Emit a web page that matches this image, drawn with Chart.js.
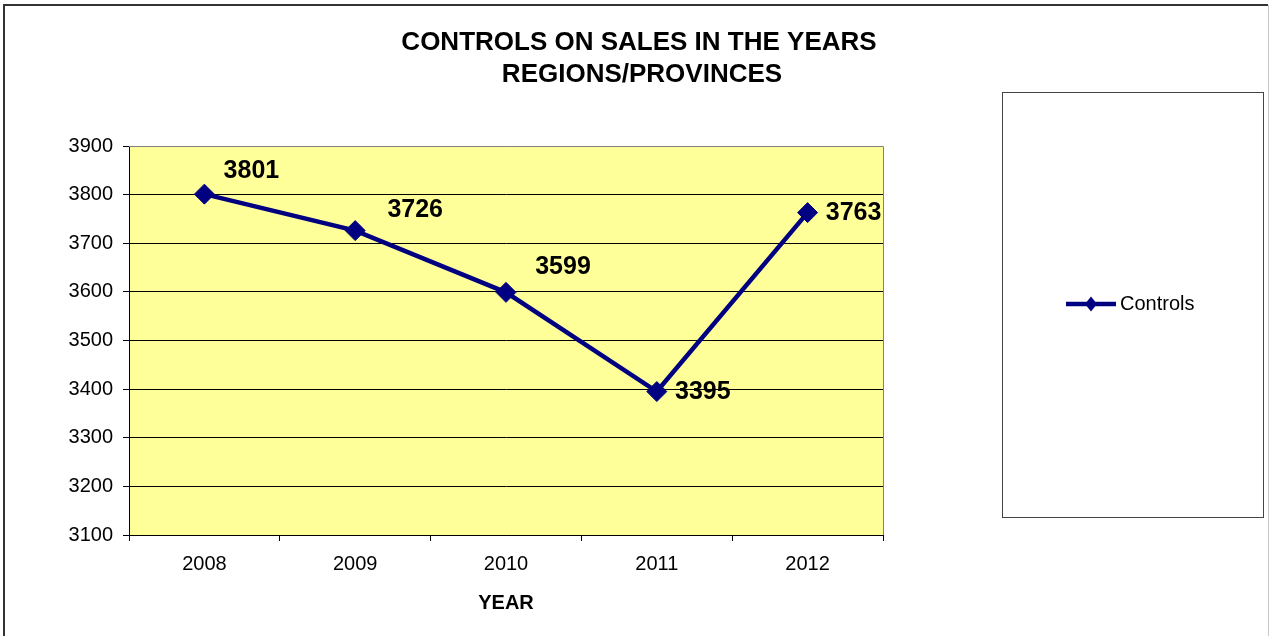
<!DOCTYPE html>
<html><head><meta charset="utf-8">
<script src="https://cdn.jsdelivr.net/npm/chart.js@4"></script>
<style>html,body{margin:0;padding:0;background:#fff;overflow:hidden}</style>
</head><body>
<canvas id="c" width="1270" height="636" style="display:block;width:1270px;height:636px"></canvas>
<script>
const years = ['2008', '2009', '2010', '2011', '2012'];
const controls = [3801, 3726, 3599, 3395, 3763];
const yTickValues = [3100, 3200, 3300, 3400, 3500, 3600, 3700, 3800, 3900];
const titleLines = ['CONTROLS ON SALES IN THE YEARS', 'REGIONS/PROVINCES'];
const seriesName = 'Controls';
const xAxisTitle = 'YEAR';

const FONT = '"Liberation Sans", Arial, sans-serif';
const NAVY = '#000080';

const decor = {
  id: 'decor',
  beforeDraw(chart) {
    const ctx = chart.ctx, a = chart.chartArea;
    ctx.save();
    ctx.fillStyle = '#FFFF99';
    ctx.fillRect(a.left, a.top, a.right - a.left, a.bottom - a.top);
    // outer frame
    ctx.strokeStyle = '#333';
    ctx.lineWidth = 2;
    ctx.beginPath();
    ctx.moveTo(4, 640); ctx.lineTo(4, 5); ctx.lineTo(1268, 5);
    ctx.stroke();
    ctx.strokeStyle = '#c8c8c8';
    ctx.lineWidth = 1;
    ctx.beginPath();
    ctx.moveTo(1268.5, 5); ctx.lineTo(1268.5, 640);
    ctx.stroke();
    ctx.restore();
  },
  afterDraw(chart, args, opts) {
    const ctx = chart.ctx, a = chart.chartArea;
    ctx.save();
    // plot area top/right border
    ctx.strokeStyle = '#808080';
    ctx.lineWidth = 1;
    ctx.beginPath();
    ctx.moveTo(a.left, a.top + 0.5); ctx.lineTo(a.right + 0.5, a.top + 0.5); ctx.lineTo(a.right + 0.5, a.bottom);
    ctx.stroke();
    // title
    ctx.fillStyle = '#000';
    ctx.font = 'bold 26px ' + FONT;
    ctx.textAlign = 'center';
    ctx.textBaseline = 'middle';
    ctx.fillText(titleLines[0], 639, 43);
    ctx.fillText(titleLines[1], 642, 75);
    // legend box
    ctx.strokeStyle = '#444';
    ctx.lineWidth = 1;
    ctx.strokeRect(1002.5, 92.5, 261, 425);
    ctx.strokeStyle = NAVY;
    ctx.lineWidth = 4.5;
    ctx.beginPath();
    ctx.moveTo(1066, 304); ctx.lineTo(1116, 304);
    ctx.stroke();
    ctx.fillStyle = NAVY;
    ctx.beginPath();
    ctx.moveTo(1091, 296.5); ctx.lineTo(1097, 304); ctx.lineTo(1091, 311.5); ctx.lineTo(1085, 304);
    ctx.closePath(); ctx.fill();
    ctx.fillStyle = '#000';
    ctx.font = '20px ' + FONT;
    ctx.textAlign = 'left';
    ctx.fillText(seriesName, 1120, 304);
    // data labels
    const meta = chart.getDatasetMeta(0);
    ctx.font = 'bold 25px ' + FONT;
    ctx.textAlign = 'center';
    ctx.textBaseline = 'middle';
    meta.data.forEach((pt, i) => {
      const off = opts.labelOffsets[i];
      ctx.fillText(String(chart.data.datasets[0].data[i]), pt.x + off[0], pt.y + off[1]);
    });
    ctx.restore();
  }
};

new Chart(document.getElementById('c'), {
  type: 'line',
  data: {
    labels: years,
    datasets: [{
      label: seriesName,
      data: controls,
      borderColor: NAVY,
      backgroundColor: NAVY,
      borderWidth: 4.5,
      tension: 0,
      pointStyle: 'rectRot',
      pointRadius: 10,
      pointHoverRadius: 10,
      pointBackgroundColor: NAVY,
      pointBorderColor: NAVY,
      pointBorderWidth: 1,
      clip: false
    }]
  },
  plugins: [decor],
  options: {
    responsive: false,
    animation: false,
    devicePixelRatio: 1,
    events: [],
    layout: { padding: { left: 0, top: 146, right: 387, bottom: 0 } },
    plugins: {
      legend: { display: false },
      title: { display: false },
      tooltip: { enabled: false },
      decor: { labelOffsets: [[47, -23], [60, -20], [57, -25], [46, 1], [46, 0]] }
    },
    scales: {
      x: {
        offset: true,
        grid: { display: true, drawOnChartArea: false, offset: true, color: '#000', tickLength: 6 },
        border: { display: true, color: '#000', width: 1 },
        ticks: { color: '#000', font: { family: FONT, size: 20 }, padding: 11, maxRotation: 0 },
        title: { display: true, text: xAxisTitle, color: '#000', font: { family: FONT, size: 20, weight: 'bold' }, padding: { top: 0, bottom: 21 } },
        afterFit: s => { s.height = 101; }
      },
      y: {
        min: yTickValues[0],
        max: yTickValues[yTickValues.length - 1],
        afterBuildTicks: s => { s.ticks = yTickValues.map(v => ({ value: v })); },
        grid: {
          color: c => (c.index === yTickValues.length - 1 ? '#808080' : '#000'),
          tickColor: '#000',
          tickLength: 6
        },
        border: { display: true, color: '#000', width: 1 },
        ticks: { color: '#000', font: { family: FONT, size: 20 }, padding: 10, callback: v => String(v) },
        afterFit: s => { s.width = 129; }
      }
    }
  }
});
</script>
</body></html>
